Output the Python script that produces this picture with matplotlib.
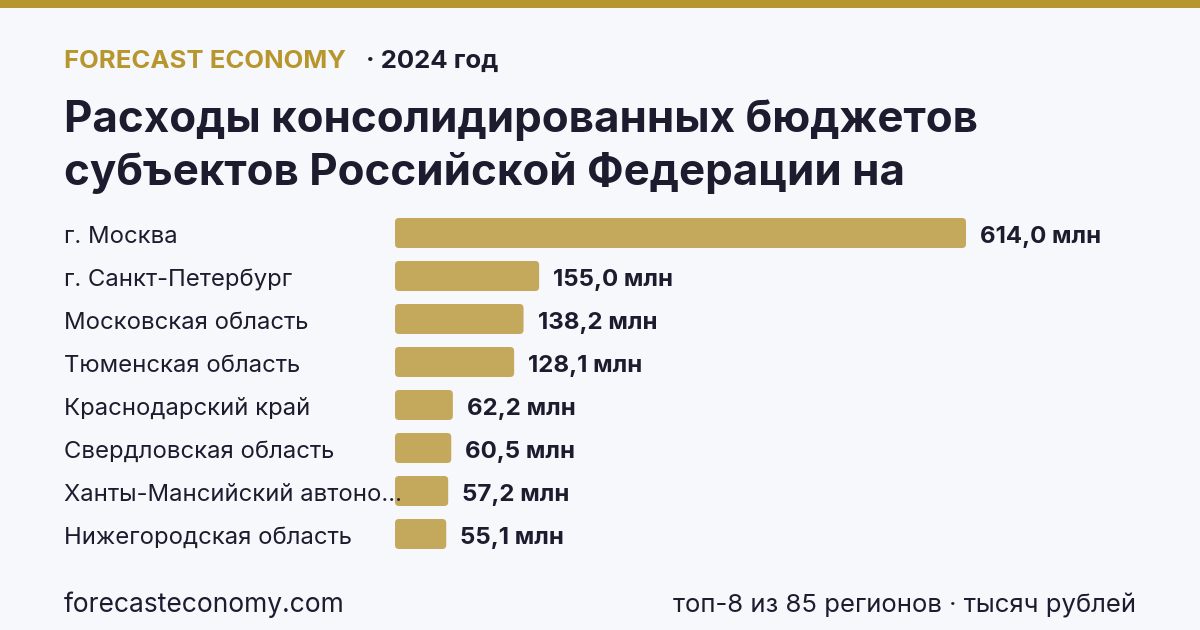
import matplotlib
matplotlib.use("Agg")
import matplotlib.pyplot as plt
from matplotlib.patches import FancyBboxPatch, Rectangle

plt.rcParams["font.family"] = ["Inter", "DejaVu Sans"]

regions = [
    "г. Москва",
    "г. Санкт-Петербург",
    "Московская область",
    "Тюменская область",
    "Краснодарский край",
    "Свердловская область",
    "Ханты-Мансийский автоно...",
    "Нижегородская область",
]
values = [614.0, 155.0, 138.2, 128.1, 62.2, 60.5, 57.2, 55.1]
value_labels = ["614,0 млн", "155,0 млн", "138,2 млн", "128,1 млн",
                "62,2 млн", "60,5 млн", "57,2 млн", "55,1 млн"]

title_lines = ["Расходы консолидированных бюджетов",
               "субъектов Российской Федерации на"]
brand = "FORECAST ECONOMY"
year_text = "· 2024 год"
footer_left = "forecasteconomy.com"
footer_right = "топ-8 из 85 регионов · тысяч рублей"

BG = "#f7f8fc"
GOLD = "#b8962e"
BAR = "#c4a85c"
INK = "#1c1c2e"

W, H = 1200, 630
fig = plt.figure(figsize=(12, 6.3), dpi=100, facecolor=BG)

# top stripe
fig.patches.append(Rectangle((0, 1 - 8 / H), 1, 8 / H, transform=fig.transFigure,
                             facecolor=GOLD, edgecolor="none"))


def fx(px):
    return px / W


def fy(py):
    return 1 - py / H


fig.text(fx(64), fy(61), brand, color=GOLD, fontsize=18.5, fontweight="bold", va="center")
fig.text(fx(366), fy(61), year_text, color=INK, fontsize=18.5, fontweight="bold", va="center")
fig.text(fx(64), fy(132), title_lines[0], color=INK, fontsize=31.6, fontweight="bold", va="baseline")
fig.text(fx(64), fy(185), title_lines[1], color=INK, fontsize=31.6, fontweight="bold", va="baseline")
fig.text(fx(64), fy(605), footer_left, color=INK, fontsize=19, va="center")
fig.text(fx(1136), fy(605), footer_right, color=INK, fontsize=18.5, va="center", ha="right")

# bar axes: rows centred at 233 ... 534 px, 43 px apart
row_px = 43
top_px = 233 - row_px / 2
bottom_px = top_px + row_px * len(values)
left_px, right_px = 395, 1180
ax = fig.add_axes([fx(left_px), fy(bottom_px), fx(right_px - left_px), (bottom_px - top_px) / H])
ax.set_facecolor("none")
px_per_unit = 571 / 614.0
ax.set_xlim(0, (right_px - left_px) / px_per_unit)
ax.set_ylim(len(values) - 0.5, -0.5)
ax.axis("off")

bar_h = 30 / row_px
rx = 4 / px_per_unit
aspect = (1 / row_px) / (1 / px_per_unit)
text_shift = 4 / row_px
for i, (v, lab) in enumerate(zip(values, value_labels)):
    ax.add_patch(FancyBboxPatch((0, i - bar_h / 2), v, bar_h,
                                boxstyle=f"round,pad=0,rounding_size={rx}",
                                mutation_aspect=aspect,
                                facecolor=BAR, edgecolor="none", zorder=3))
    ax.text(v + 14 / px_per_unit, i + text_shift, lab, color=INK, fontsize=17.3,
            fontweight="bold", va="center", ha="left")

for i, name in enumerate(regions):
    fig.text(fx(64), fy(237 + i * row_px), name, color=INK, fontsize=17.2, va="center", zorder=1)

fig.savefig("out.png", dpi=100, facecolor=BG)
